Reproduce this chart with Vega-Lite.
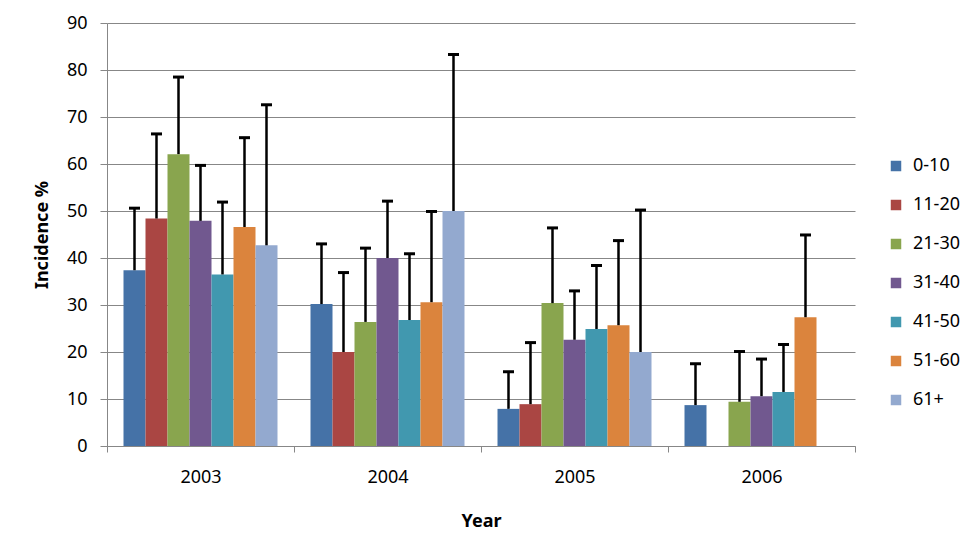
{
  "$schema": "https://vega.github.io/schema/vega-lite/v6.json",
  "width": 748,
  "height": 423,
  "autosize": {"type": "none"},
  "padding": {"left": 107, "top": 23, "right": 120, "bottom": 112},
  "background": "white",
  "data": {
    "values": [
      {"year": "2003", "age": "0-10", "value": 37.4, "upper": 50.6},
      {"year": "2003", "age": "11-20", "value": 48.4, "upper": 66.4},
      {"year": "2003", "age": "21-30", "value": 62.1, "upper": 78.5},
      {"year": "2003", "age": "31-40", "value": 47.9, "upper": 59.7},
      {"year": "2003", "age": "41-50", "value": 36.5, "upper": 51.9},
      {"year": "2003", "age": "51-60", "value": 46.6, "upper": 65.6},
      {"year": "2003", "age": "61+", "value": 42.7, "upper": 72.6},
      {"year": "2004", "age": "0-10", "value": 30.2, "upper": 43.0},
      {"year": "2004", "age": "11-20", "value": 20.0, "upper": 36.9},
      {"year": "2004", "age": "21-30", "value": 26.4, "upper": 42.1},
      {"year": "2004", "age": "31-40", "value": 40.0, "upper": 52.1},
      {"year": "2004", "age": "41-50", "value": 26.8, "upper": 40.9},
      {"year": "2004", "age": "51-60", "value": 30.6, "upper": 49.9},
      {"year": "2004", "age": "61+", "value": 50.0, "upper": 83.3},
      {"year": "2005", "age": "0-10", "value": 7.9, "upper": 15.8},
      {"year": "2005", "age": "11-20", "value": 8.9, "upper": 22.0},
      {"year": "2005", "age": "21-30", "value": 30.4, "upper": 46.4},
      {"year": "2005", "age": "31-40", "value": 22.6, "upper": 33.0},
      {"year": "2005", "age": "41-50", "value": 24.9, "upper": 38.4},
      {"year": "2005", "age": "51-60", "value": 25.7, "upper": 43.7},
      {"year": "2005", "age": "61+", "value": 20.0, "upper": 50.2},
      {"year": "2006", "age": "0-10", "value": 8.7, "upper": 17.5},
      {"year": "2006", "age": "21-30", "value": 9.4, "upper": 20.1},
      {"year": "2006", "age": "31-40", "value": 10.6, "upper": 18.5},
      {"year": "2006", "age": "41-50", "value": 11.5, "upper": 21.6},
      {"year": "2006", "age": "51-60", "value": 27.4, "upper": 44.9}
    ]
  },
  "encoding": {
    "x": {
      "field": "year",
      "type": "nominal",
      "scale": {"paddingInner": 0, "paddingOuter": 0},
      "axis": {
        "title": "Year",
        "labelAngle": 0,
        "tickBand": "extent",
        "tickSize": 6,
        "tickColor": "#878787",
        "domainColor": "#878787",
        "labelPadding": 16,
        "titlePadding": 26,
        "grid": false
      }
    },
    "xOffset": {
      "field": "age",
      "type": "nominal",
      "sort": ["0-10", "11-20", "21-30", "31-40", "41-50", "51-60", "61+"],
      "scale": {"paddingInner": 0, "paddingOuter": 0.75}
    }
  },
  "layer": [
    {
      "mark": {"type": "bar"},
      "encoding": {
        "y": {
          "field": "value",
          "type": "quantitative",
          "scale": {"domain": [0, 90], "nice": false},
          "axis": {
            "title": "Incidence %",
            "values": [0, 10, 20, 30, 40, 50, 60, 70, 80, 90],
            "tickSize": 7,
            "tickColor": "#878787",
            "domainColor": "#878787",
            "gridColor": "#878787",
            "labelPadding": 13,
            "titlePadding": 15
          }
        },
        "color": {
          "field": "age",
          "type": "nominal",
          "sort": ["0-10", "11-20", "21-30", "31-40", "41-50", "51-60", "61+"],
          "scale": {
            "range": ["#4572A7", "#AA4643", "#89A54E", "#71588F", "#4198AF", "#DB843D", "#93A9CF"]
          },
          "legend": {
            "title": null,
            "orient": "none",
            "legendX": 780,
            "legendY": 134,
            "symbolType": "square",
            "symbolSize": 110,
            "symbolStrokeWidth": 0,
            "rowPadding": 21,
            "labelOffset": 8
          }
        }
      }
    },
    {
      "mark": {"type": "rule", "color": "black", "strokeWidth": 2.5},
      "encoding": {
        "y": {"field": "value", "type": "quantitative"},
        "y2": {"field": "upper"}
      }
    },
    {
      "mark": {"type": "tick", "orient": "horizontal", "color": "black", "thickness": 3, "size": 11, "opacity": 1},
      "encoding": {
        "y": {"field": "upper", "type": "quantitative"}
      }
    }
  ],
  "config": {
    "view": {"stroke": null},
    "font": "Noto Sans",
    "axis": {
      "labelFont": "Noto Sans",
      "labelFontSize": 18,
      "labelColor": "black",
      "titleFont": "Noto Sans",
      "titleFontSize": 18,
      "titleFontWeight": "bold",
      "titleColor": "black"
    },
    "legend": {
      "labelFont": "Noto Sans",
      "labelFontSize": 18,
      "labelColor": "black"
    }
  }
}
